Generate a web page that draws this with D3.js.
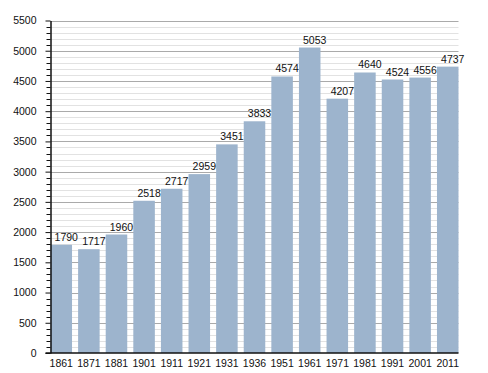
<!DOCTYPE html>
<html lang="en">

<head>
    <meta charset="UTF-8">
    <title>Population</title>
    <script src="https://cdn.jsdelivr.net/npm/d3@7"></script>
    <style>
        body { margin: 0; background: #fff; }
        text { font-family: "Liberation Sans", Arial, sans-serif; font-size: 10.5px; fill: #111; }
    </style>
</head>

<body>
    <svg></svg>
</body>
<script>
    // census years and population
    const years = ['1861', '1871', '1881', '1901', '1911', '1921', '1931', '1936', '1951', '1961', '1971', '1981', '1991', '2001', '2011'];
    const population = [1790, 1717, 1960, 2518, 2717, 2959, 3451, 3833, 4574, 5053, 4207, 4640, 4524, 4556, 4737];
    const yTicks = [0, 500, 1000, 1500, 2000, 2500, 3000, 3500, 4000, 4500, 5000, 5500];

    const width = 488, height = 373;
    const plotLeft = 50.5, plotRight = 458.5, plotTop = 20.5, plotBottom = 353;

    const svg = d3.select('svg')
        .attr('width', width)
        .attr('height', height);

    const x = d3.scaleBand()
        .domain(years)
        .range([plotLeft, plotRight])
        .paddingInner(0.22)
        .paddingOuter(0);

    const y = d3.scaleLinear()
        .domain([0, 5500])
        .range([plotBottom, plotTop]);

    // minor gridlines every 100
    const minor = d3.range(100, 5501, 100).filter(v => v % 500 !== 0);
    svg.append('g')
        .selectAll('line')
        .data(minor)
        .join('line')
        .attr('x1', plotLeft)
        .attr('x2', plotRight)
        .attr('y1', d => Math.round(y(d)) + 0.5)
        .attr('y2', d => Math.round(y(d)) + 0.5)
        .attr('stroke', '#e2e2e2')
        .attr('stroke-width', 1);

    // major gridlines every 500
    svg.append('g')
        .selectAll('line')
        .data(yTicks.slice(1))
        .join('line')
        .attr('x1', plotLeft)
        .attr('x2', plotRight)
        .attr('y1', d => Math.round(y(d)) + 0.5)
        .attr('y2', d => Math.round(y(d)) + 0.5)
        .attr('stroke', '#aaaaaa')
        .attr('stroke-width', 1);

    // bars
    svg.append('g')
        .selectAll('rect')
        .data(population)
        .join('rect')
        .attr('x', (d, i) => x(years[i]))
        .attr('y', d => y(d))
        .attr('width', x.bandwidth())
        .attr('height', d => plotBottom - y(d))
        .attr('fill', '#9db4cd');

    // value labels (sit a little right of bar centre, as in the original)
    svg.append('g')
        .selectAll('text')
        .data(population)
        .join('text')
        .attr('x', (d, i) => x(years[i]) + x.bandwidth() / 2 + 5)
        .attr('y', d => y(d) - 4)
        .attr('text-anchor', 'middle')
        .text(d => d);

    // y axis: minor ticks
    svg.append('g')
        .selectAll('line')
        .data(minor)
        .join('line')
        .attr('x1', plotLeft - 4)
        .attr('x2', plotLeft)
        .attr('y1', d => Math.round(y(d)) + 0.5)
        .attr('y2', d => Math.round(y(d)) + 0.5)
        .attr('stroke', '#111');

    // y axis with major ticks
    const yAxis = svg.append('g')
        .attr('transform', `translate(${plotLeft},0)`)
        .call(d3.axisLeft(y).tickValues(yTicks).tickFormat(d3.format('d')).tickSize(5).tickPadding(9).tickSizeOuter(0));
    yAxis.select('.domain').attr('stroke', '#111').attr('stroke-width', 1.5);
    yAxis.selectAll('.tick line').attr('stroke', '#111');
    yAxis.selectAll('text').style('font-size', '10.5px').attr('fill', '#111');

    // x axis
    const xAxis = svg.append('g')
        .attr('transform', `translate(0,${plotBottom})`)
        .call(d3.axisBottom(x).tickSize(0).tickPadding(7));
    xAxis.select('.domain').attr('d', `M${plotLeft - 5},0H${plotRight}`).attr('stroke', '#111').attr('stroke-width', 1.5);
    xAxis.selectAll('text').style('font-size', '10.5px').attr('fill', '#111');
</script>

</html>
